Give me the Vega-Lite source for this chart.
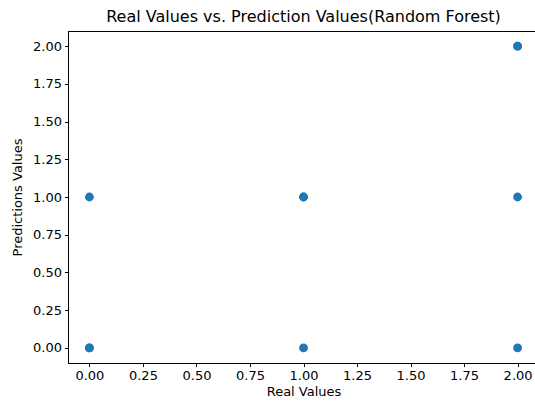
{
  "$schema": "https://vega.github.io/schema/vega-lite/v6.json",
  "width": 471,
  "height": 332,
  "autosize": {"type": "none"},
  "padding": {"left": 68, "top": 31, "right": 0, "bottom": 41},
  "background": "white",
  "config": {
    "font": "DejaVu Sans",
    "view": {"stroke": "black", "strokeWidth": 1},
    "axis": {
      "grid": false,
      "domainColor": "black",
      "tickColor": "black",
      "tickSize": 3.5,
      "labelColor": "black",
      "titleColor": "black",
      "labelFont": "DejaVu Sans",
      "titleFont": "DejaVu Sans",
      "labelFontSize": 13,
      "titleFontSize": 13,
      "titleFontWeight": "normal",
      "labelPadding": 3
    }
  },
  "title": {
    "text": "Real Values vs. Prediction Values(Random Forest)",
    "font": "DejaVu Sans",
    "fontSize": 16,
    "fontWeight": "normal",
    "color": "black",
    "anchor": "middle",
    "offset": 6
  },
  "data": {
    "values": [
      {"real": 0, "pred": 0},
      {"real": 0, "pred": 0},
      {"real": 0, "pred": 1},
      {"real": 1, "pred": 0},
      {"real": 1, "pred": 1},
      {"real": 1, "pred": 1},
      {"real": 2, "pred": 0},
      {"real": 2, "pred": 1},
      {"real": 2, "pred": 2},
      {"real": 2, "pred": 2}
    ]
  },
  "mark": {"type": "point", "filled": true, "shape": "circle", "size": 78, "color": "#1f77b4", "opacity": 1},
  "encoding": {
    "x": {
      "field": "real",
      "type": "quantitative",
      "title": "Real Values",
      "scale": {"domain": [-0.1, 2.1], "nice": false, "zero": false},
      "axis": {"values": [0, 0.25, 0.5, 0.75, 1, 1.25, 1.5, 1.75, 2], "format": ".2f", "titlePadding": 3, "labelFlush": false, "labelOverlap": false}
    },
    "y": {
      "field": "pred",
      "type": "quantitative",
      "title": "Predictions Values",
      "scale": {"domain": [-0.1, 2.1], "nice": false, "zero": false},
      "axis": {"values": [0, 0.25, 0.5, 0.75, 1, 1.25, 1.5, 1.75, 2], "format": ".2f", "titlePadding": 8, "labelFlush": false, "labelOverlap": false}
    }
  }
}
